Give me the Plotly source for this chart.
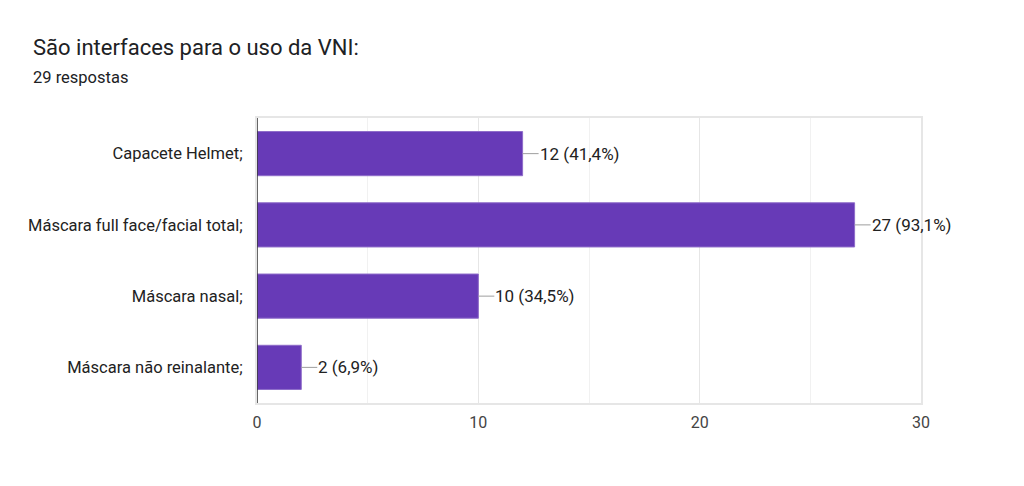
import plotly.graph_objects as go

categories = [
    "Capacete Helmet;",
    "Máscara full face/facial total;",
    "Máscara nasal;",
    "Máscara não reinalante;",
]
counts = [12, 27, 10, 2]
labels = ["12 (41,4%)", "27 (93,1%)", "10 (34,5%)", "2 (6,9%)"]
total = 29

fig = go.Figure(go.Bar(
    x=counts,
    y=categories,
    orientation="h",
    marker=dict(color="#673ab7", line=dict(color="#8e6cc9", width=1)),
    width=0.62,
    hoverinfo="skip",
))

annotations = []
for c, cat, lab in zip(counts, categories, labels):
    annotations.append(dict(
        x=c, y=cat, xref="x", yref="y",
        text=lab, showarrow=True, arrowhead=0, arrowwidth=1,
        arrowcolor="#9e9e9e", ax=16, ay=0, xanchor="left",
        borderpad=0,
        font=dict(family="Roboto", size=17, color="#222222"),
    ))

annotations.append(dict(
    x=23, y=39, text="São interfaces para o uso da VNI:",
    showarrow=False, font=dict(family="Roboto", size=22, color="#202124"),
))
annotations.append(dict(
    x=23, y=69, text=f"{total} respostas",
    showarrow=False, font=dict(family="Roboto", size=16.5, color="#202124"),
))
# convert pixel-placed title annotations into paper coords
W, H = 1024, 486
ml, mr, mt, mb = 249, 111, 110, 91
for a in annotations[-2:]:
    px, py = a["x"], a["y"]
    a["xref"] = "paper"
    a["yref"] = "paper"
    a["x"] = (px - ml) / (W - ml - mr)
    a["y"] = 1 - (py - mt) / (H - mt - mb)
    a["xanchor"] = "left"
    a["yanchor"] = "middle"

fig.update_layout(
    width=W, height=H,
    margin=dict(l=ml, r=mr, t=mt, b=mb),
    paper_bgcolor="white",
    plot_bgcolor="white",
    showlegend=False,
    annotations=annotations,
    font=dict(family="Roboto", color="#222222"),
    xaxis=dict(
        range=[0, 30],
        tickvals=[0, 10, 20, 30],
        showgrid=True, gridcolor="#e6e6e6", gridwidth=1,
        minor=dict(tickvals=[5, 15, 25], showgrid=True, gridcolor="#f1f1f1", gridwidth=1),
        zeroline=False,
        showline=True, linecolor="#e6e6e6", linewidth=2, mirror=True,
        ticks="", ticklabelstandoff=4,
        tickfont=dict(family="Roboto", size=16, color="#444444"),
        fixedrange=True,
    ),
    yaxis=dict(
        autorange="reversed",
        showgrid=False,
        zeroline=False,
        showline=True, linecolor="#e6e6e6", linewidth=2, mirror=True,
        ticks="", ticklabelstandoff=9,
        tickfont=dict(family="Roboto", size=16.5, color="#222222"),
        fixedrange=True,
    ),
)

# dark baseline at x=0
fig.add_vline(x=0, line=dict(color="#333333", width=1.5), layer="above")

fig.write_html("out.html")
